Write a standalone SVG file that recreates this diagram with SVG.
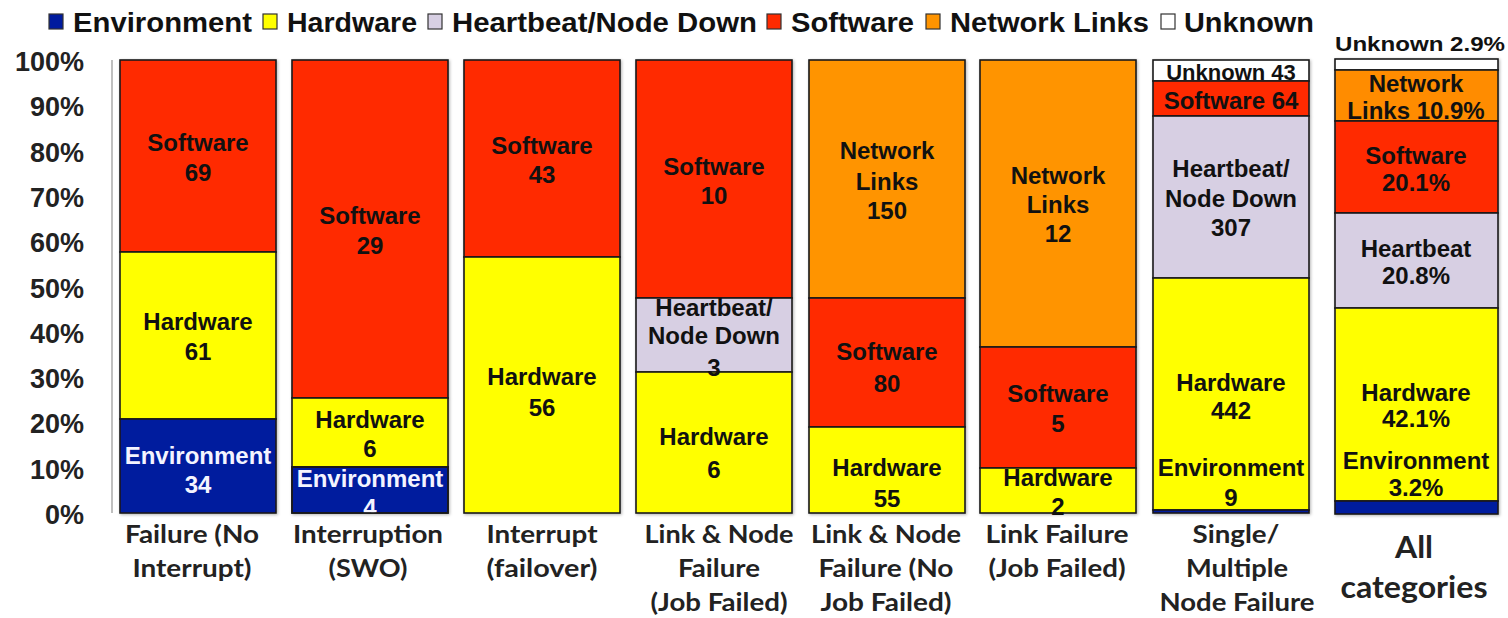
<svg xmlns="http://www.w3.org/2000/svg" width="1508" height="618" viewBox="0 0 1508 618">
<style>
.env{fill:#001b9e}.hw{fill:#ffff00}.hb{fill:#d7cfe3}.sw{fill:#ff2a00}.nl{fill:#ff9400}.unk{fill:#ffffff}
.seg{stroke:#1a1a1a;stroke-width:1.6}
.lg{font-family:"Liberation Sans",Arial,sans-serif;font-weight:bold;font-size:27px;fill:#111}
.lbox{stroke:#333;stroke-width:1.2}
.yl{font-family:"Liberation Sans",Arial,sans-serif;font-weight:bold;font-size:27px;fill:#222;text-anchor:end}
.bt{font-family:"Liberation Sans",Arial,sans-serif;font-weight:bold;font-size:24px;fill:#111;text-anchor:middle}
.wt{fill:#f4f4ff}
.xl{font-family:Lato,"Open Sans",sans-serif;font-weight:bold;font-size:24px;fill:#222;text-anchor:middle}
.xb{font-size:31px}
</style>
<defs>
<filter id="sh" x="-5%" y="-5%" width="110%" height="110%">
<feGaussianBlur in="SourceAlpha" stdDeviation="1.5"/>
<feOffset dx="1" dy="1" result="b"/>
<feFlood flood-color="#000" flood-opacity="0.3"/>
<feComposite in2="b" operator="in"/>
<feMerge><feMergeNode/><feMergeNode in="SourceGraphic"/></feMerge>
</filter>
<clipPath id="c2"><rect x="292" y="60" width="156" height="453"/></clipPath>
</defs>
<rect width="1508" height="618" fill="#ffffff"/>

<g id="legend">
<rect class="env lbox" x="49" y="14" width="14" height="15"/>
<text class="lg" x="73" y="32" textLength="179" lengthAdjust="spacingAndGlyphs">Environment</text>
<rect class="hw lbox" x="263" y="14" width="14" height="15"/>
<text class="lg" x="287" y="32" textLength="130" lengthAdjust="spacingAndGlyphs">Hardware</text>
<rect class="hb lbox" x="428" y="14" width="14" height="15"/>
<text class="lg" x="452" y="32" textLength="305" lengthAdjust="spacingAndGlyphs">Heartbeat/Node Down</text>
<rect class="sw lbox" x="767" y="14" width="14" height="15"/>
<text class="lg" x="791" y="32" textLength="123" lengthAdjust="spacingAndGlyphs">Software</text>
<rect class="nl lbox" x="926" y="14" width="14" height="15"/>
<text class="lg" x="950" y="32" textLength="199" lengthAdjust="spacingAndGlyphs">Network Links</text>
<rect class="unk lbox" x="1161" y="14" width="14" height="15"/>
<text class="lg" x="1184" y="32" textLength="130" lengthAdjust="spacingAndGlyphs">Unknown</text>
</g>

<g id="y-axis">
<line x1="112" y1="60" x2="112" y2="513" stroke="#aaa" stroke-width="1.5"/>
<text class="yl" x="84" y="71">100%</text>
<text class="yl" x="84" y="116.3">90%</text>
<text class="yl" x="84" y="161.6">80%</text>
<text class="yl" x="84" y="206.9">70%</text>
<text class="yl" x="84" y="252.2">60%</text>
<text class="yl" x="84" y="297.5">50%</text>
<text class="yl" x="84" y="342.8">40%</text>
<text class="yl" x="84" y="388.1">30%</text>
<text class="yl" x="84" y="433.4">20%</text>
<text class="yl" x="84" y="478.7">10%</text>
<text class="yl" x="84" y="524">0%</text>
</g>

<g id="bar1">
<g filter="url(#sh)">
<rect class="sw seg" x="120" y="60" width="156" height="192"/>
<rect class="hw seg" x="120" y="252" width="156" height="167"/>
<rect class="env seg" x="120" y="419" width="156" height="94"/>
</g>
<text class="bt" x="198" y="150.5">Software</text>
<text class="bt" x="198" y="180.5">69</text>
<text class="bt" x="198" y="330">Hardware</text>
<text class="bt" x="198" y="360">61</text>
<text class="bt wt" x="198" y="463.5">Environment</text>
<text class="bt wt" x="198" y="492.5">34</text>
<text class="xl" x="192" y="543" textLength="134" lengthAdjust="spacingAndGlyphs">Failure (No</text>
<text class="xl" x="192" y="577" textLength="119" lengthAdjust="spacingAndGlyphs">Interrupt)</text>
</g>

<g id="bar2">
<g filter="url(#sh)">
<rect class="sw seg" x="292" y="60" width="156" height="338"/>
<rect class="hw seg" x="292" y="398" width="156" height="69"/>
<rect class="env seg" x="292" y="467" width="156" height="46"/>
</g>
<text class="bt" x="370" y="223.5">Software</text>
<text class="bt" x="370" y="253.5">29</text>
<text class="bt" x="370" y="427.5">Hardware</text>
<text class="bt" x="370" y="456.5">6</text>
<g clip-path="url(#c2)">
<text class="bt wt" x="370" y="486.5">Environment</text>
<text class="bt wt" x="370" y="516">4</text>
</g>
<rect x="292" y="467" width="156" height="46" fill="none" class="seg"/>
<text class="xl" x="368" y="543" textLength="150" lengthAdjust="spacingAndGlyphs">Interruption</text>
<text class="xl" x="368" y="577" textLength="79" lengthAdjust="spacingAndGlyphs">(SWO)</text>
</g>

<g id="bar3">
<g filter="url(#sh)">
<rect class="sw seg" x="464" y="60" width="156" height="197"/>
<rect class="hw seg" x="464" y="257" width="156" height="256"/>
</g>
<text class="bt" x="542" y="153.5">Software</text>
<text class="bt" x="542" y="182.5">43</text>
<text class="bt" x="542" y="384.5">Hardware</text>
<text class="bt" x="542" y="415.5">56</text>
<text class="xl" x="542" y="543" textLength="111" lengthAdjust="spacingAndGlyphs">Interrupt</text>
<text class="xl" x="542" y="577" textLength="111" lengthAdjust="spacingAndGlyphs">(failover)</text>
</g>

<g id="bar4">
<g filter="url(#sh)">
<rect class="sw seg" x="636" y="60" width="156" height="238"/>
<rect class="hb seg" x="636" y="298" width="156" height="74"/>
<rect class="hw seg" x="636" y="372" width="156" height="141"/>
</g>
<text class="bt" x="714" y="174.5">Software</text>
<text class="bt" x="714" y="203.5">10</text>
<text class="bt" x="714" y="315.5">Heartbeat/</text>
<text class="bt" x="714" y="343.5">Node Down</text>
<text class="bt" x="714" y="375.5">3</text>
<text class="bt" x="714" y="444.5">Hardware</text>
<text class="bt" x="714" y="477.5">6</text>
<text class="xl" x="719" y="543" textLength="149" lengthAdjust="spacingAndGlyphs">Link &amp; Node</text>
<text class="xl" x="719" y="577" textLength="82" lengthAdjust="spacingAndGlyphs">Failure</text>
<text class="xl" x="719" y="611" textLength="137" lengthAdjust="spacingAndGlyphs">(Job Failed)</text>
</g>

<g id="bar5">
<g filter="url(#sh)">
<rect class="nl seg" x="809" y="60" width="156" height="238"/>
<rect class="sw seg" x="809" y="298" width="156" height="129"/>
<rect class="hw seg" x="809" y="427" width="156" height="86"/>
</g>
<text class="bt" x="887" y="158.5">Network</text>
<text class="bt" x="887" y="189.5">Links</text>
<text class="bt" x="887" y="218.5">150</text>
<text class="bt" x="887" y="359.5">Software</text>
<text class="bt" x="887" y="391.5">80</text>
<text class="bt" x="887" y="475.5">Hardware</text>
<text class="bt" x="887" y="506.5">55</text>
<text class="xl" x="886" y="543" textLength="150" lengthAdjust="spacingAndGlyphs">Link &amp; Node</text>
<text class="xl" x="886" y="577" textLength="135" lengthAdjust="spacingAndGlyphs">Failure (No</text>
<text class="xl" x="886" y="611" textLength="131" lengthAdjust="spacingAndGlyphs">Job Failed)</text>
</g>

<g id="bar6">
<g filter="url(#sh)">
<rect class="nl seg" x="980" y="60" width="156" height="287"/>
<rect class="sw seg" x="980" y="347" width="156" height="121"/>
<rect class="hw seg" x="980" y="468" width="156" height="45"/>
</g>
<text class="bt" x="1058" y="183.5">Network</text>
<text class="bt" x="1058" y="212.5">Links</text>
<text class="bt" x="1058" y="241.5">12</text>
<text class="bt" x="1058" y="401.5">Software</text>
<text class="bt" x="1058" y="431.5">5</text>
<text class="bt" x="1058" y="485.5">Hardware</text>
<text class="bt" x="1058" y="514.5">2</text>
<text class="xl" x="1057" y="543" textLength="143" lengthAdjust="spacingAndGlyphs">Link Failure</text>
<text class="xl" x="1057" y="577" textLength="137" lengthAdjust="spacingAndGlyphs">(Job Failed)</text>
</g>

<g id="bar7">
<g filter="url(#sh)">
<rect class="unk seg" x="1153" y="60" width="156" height="21"/>
<rect class="sw seg" x="1153" y="81" width="156" height="35"/>
<rect class="hb seg" x="1153" y="116" width="156" height="162"/>
<rect class="hw seg" x="1153" y="278" width="156" height="232"/>
<rect class="env seg" x="1153" y="510" width="156" height="3"/>
</g>
<text class="bt" x="1231" y="79.5" style="font-size:22px">Unknown 43</text>
<text class="bt" x="1231" y="108.5">Software 64</text>
<text class="bt" x="1231" y="176.5">Heartbeat/</text>
<text class="bt" x="1231" y="206.5">Node Down</text>
<text class="bt" x="1231" y="235.5">307</text>
<text class="bt" x="1231" y="390.5">Hardware</text>
<text class="bt" x="1231" y="418.5">442</text>
<text class="bt" x="1231" y="475.5">Environment</text>
<text class="bt" x="1231" y="505.5">9</text>
<text class="xl" x="1236" y="543" textLength="87" lengthAdjust="spacingAndGlyphs">Single/</text>
<text class="xl" x="1237" y="577" textLength="102" lengthAdjust="spacingAndGlyphs">Multiple</text>
<text class="xl" x="1237" y="611" textLength="155" lengthAdjust="spacingAndGlyphs">Node Failure</text>
</g>

<g id="bar8">
<text class="bt" x="1335" y="51" style="text-anchor:start;font-size:21px" textLength="170" lengthAdjust="spacingAndGlyphs">Unknown 2.9%</text>
<g filter="url(#sh)">
<rect class="unk seg" x="1335" y="59" width="163" height="11"/>
<rect class="nl seg" x="1335" y="70" width="163" height="51" style="fill:#ff8c00"/>
<rect class="sw seg" x="1335" y="121" width="163" height="92"/>
<rect class="hb seg" x="1335" y="213" width="163" height="95"/>
<rect class="hw seg" x="1335" y="308" width="163" height="193"/>
<rect class="env seg" x="1335" y="501" width="163" height="13"/>
</g>
<text class="bt" x="1416" y="91.5">Network</text>
<text class="bt" x="1416" y="118.5">Links 10.9%</text>
<text class="bt" x="1416" y="163.5">Software</text>
<text class="bt" x="1416" y="190.5">20.1%</text>
<text class="bt" x="1416" y="256.5">Heartbeat</text>
<text class="bt" x="1416" y="283.5">20.8%</text>
<text class="bt" x="1416" y="400.5">Hardware</text>
<text class="bt" x="1416" y="426.5">42.1%</text>
<text class="bt" x="1416" y="468.5">Environment</text>
<text class="bt" x="1416" y="495.5">3.2%</text>
<text class="xl xb" x="1414" y="558" textLength="38" lengthAdjust="spacingAndGlyphs">All</text>
<text class="xl xb" x="1414" y="598" textLength="147" lengthAdjust="spacingAndGlyphs">categories</text>
</g>
</svg>
